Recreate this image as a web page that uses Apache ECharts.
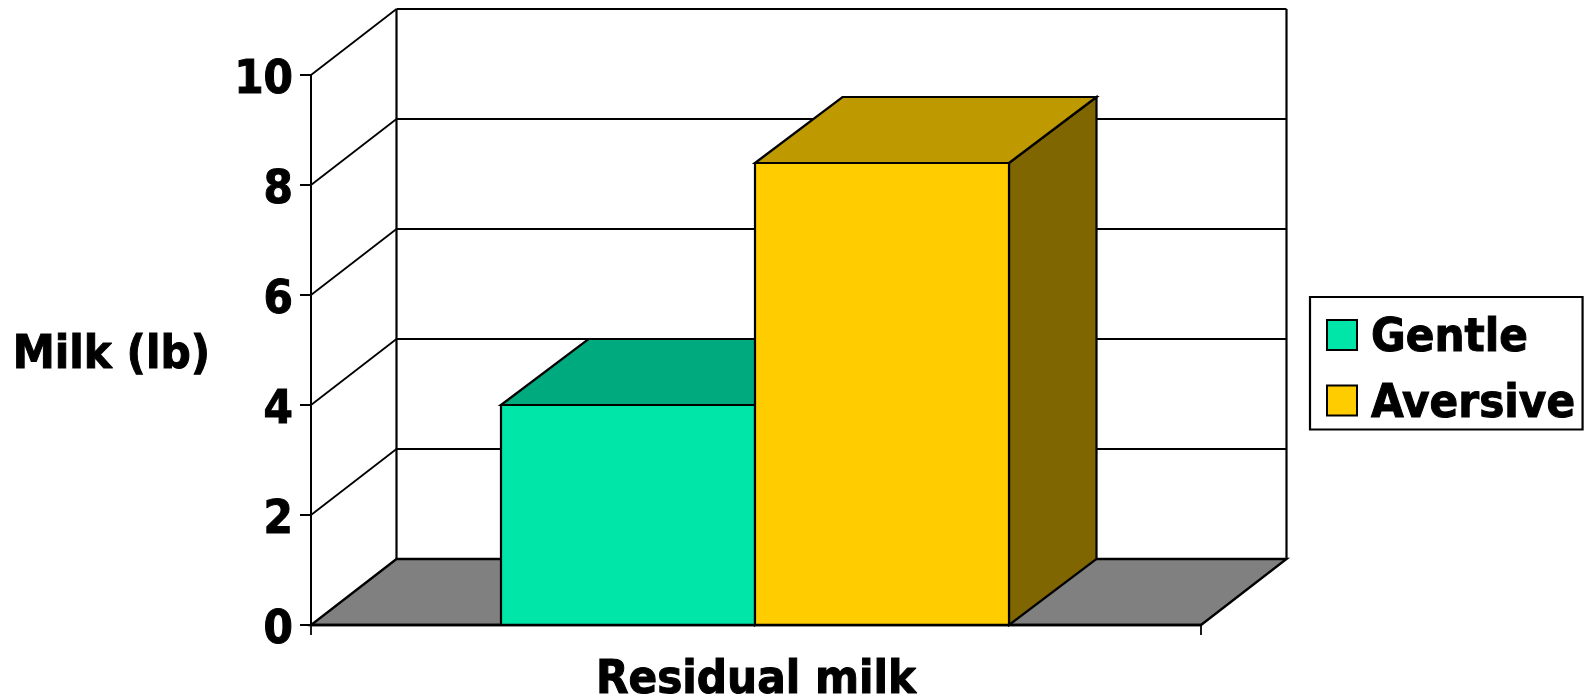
<!DOCTYPE html>
<html>
<head>
<meta charset="utf-8">
<style>html,body{margin:0;padding:0;background:#fff}#chart{width:1584px;height:696px}</style>
<script src="https://cdn.jsdelivr.net/npm/echarts@6/dist/echarts.min.js"></script>
</head>
<body>
<div id="chart"></div>
<script>
// Residual milk yield under two handling treatments
const categories = ['Residual milk'];
const gentleValues = [4];
const aversiveValues = [8.4];
const yTicks = [0, 2, 4, 6, 8, 10];

const FONT = '"DejaVu Sans Condensed", "DejaVu Sans", sans-serif';
const INK = '#000';

// Oblique offset of the chart's depth axis, in pixels
const WALL_DX = 85.5, BAR_DX = 87.5, DY = -66;
// Bar width as a share of the category band, and the pair's nudge off centre
const BAR_SHARE = 0.2854, BAR_SHIFT = -1;

// Shared weight for every label in the chart
const labelFont = {
  color: INK, fontFamily: FONT, fontWeight: 'bold', fontSize: 47,
  textBorderColor: INK, textBorderWidth: 1
};

function poly(points, fill, lineWidth) {
  return { type: 'polygon', shape: { points },
    style: { fill, stroke: INK, lineWidth, lineJoin: 'miter' } };
}
function seg(x1, y1, x2, y2, lineWidth) {
  return { type: 'line', shape: { x1, y1, x2, y2 },
    style: { stroke: INK, lineWidth, fill: null } };
}

// Floor and outer edges of the back and side walls
function renderFrame(params, api) {
  const r = params.coordSys;
  const x0 = r.x, x1 = r.x + r.width, yB = r.y + r.height, yT = r.y;
  const bx0 = x0 + WALL_DX, bx1 = x1 + WALL_DX;
  return { type: 'group', children: [
    poly([[x0, yB], [x1, yB], [bx1, yB + DY], [bx0, yB + DY]], '#808080', 2.4),
    seg(bx0, yB + DY, bx0, yT + DY, 2.2),
    seg(bx1, yB + DY, bx1, yT + DY, 2.2)
  ] };
}

// One gridline per tick: along the side wall, then across the back wall
function renderGrid(params, api) {
  const r = params.coordSys;
  const p = api.coord([0, api.value(0)]);
  const y = p[1], x0 = r.x, x1 = r.x + r.width;
  return { type: 'group', children: [
    seg(x0, y, x0 + WALL_DX, y + DY, 1.8),
    seg(x0 + WALL_DX, y + DY, x1 + WALL_DX, y + DY, 2.2)
  ] };
}

// Box bar: front face from the value scale, top and side faces offset in depth
function boxRenderer(slot, front, top, side) {
  return function (params, api) {
    const band = api.size([1, 0])[0];
    const w = band * BAR_SHARE;
    const c = api.coord([api.value(0), api.value(1)]);
    const base = api.coord([api.value(0), 0]);
    const l = c[0] + BAR_SHIFT + (slot - 1) * w, rr = l + w, t = c[1], b = base[1];
    return { type: 'group', children: [
      poly([[rr, t], [rr + BAR_DX, t + DY], [rr + BAR_DX, b + DY], [rr, b]], side, 2.2),
      poly([[l, t], [l + BAR_DX, t + DY], [rr + BAR_DX, t + DY], [rr, t]], top, 2.2),
      poly([[l, t], [rr, t], [rr, b], [l, b]], front, 2.2)
    ] };
  };
}

const chart = echarts.init(document.getElementById('chart'), null, { renderer: 'canvas' });
chart.setOption({
  animation: false,
  backgroundColor: '#fff',
  textStyle: { fontFamily: FONT },
  grid: { left: 311, right: 383, top: 75, bottom: 71, containLabel: false, outerBoundsMode: 'none' },
  xAxis: {
    type: 'category',
    data: categories,
    z: 10,
    axisLine: { lineStyle: { color: INK, width: 2.4 } },
    axisTick: { show: true, alignWithLabel: false, length: 10, lineStyle: { color: INK, width: 1.8 } },
    axisLabel: { ...labelFont, margin: 32 }
  },
  yAxis: {
    type: 'value',
    min: yTicks[0],
    max: yTicks[yTicks.length - 1],
    interval: 2,
    z: 10,
    name: 'Milk (lb)',
    nameLocation: 'middle',
    nameRotate: 0,
    nameGap: 101,
    nameTextStyle: { ...labelFont, verticalAlign: 'top', lineHeight: 12 },
    splitLine: { show: false },
    axisLine: { show: true, lineStyle: { color: INK, width: 2 } },
    axisTick: { show: true, length: 11, lineStyle: { color: INK, width: 2 } },
    axisLabel: { ...labelFont, margin: 18, verticalAlign: 'top', lineHeight: 12 }
  },
  legend: {
    data: ['Gentle', 'Aversive'],
    orient: 'vertical',
    left: 1310,
    top: 297,
    padding: [18, 7, 1, 16],
    itemWidth: 30,
    itemHeight: 30,
    itemGap: 17.5,
    borderColor: INK,
    borderWidth: 2.2,
    backgroundColor: '#fff',
    icon: 'rect',
    itemStyle: { borderColor: INK, borderWidth: 2 },
    formatter: name => `{t|${name}}`,
    textStyle: { ...labelFont, rich: { t: { ...labelFont, padding: [8, 0, 0, 9] } } },
    selectedMode: false
  },
  series: [
    { type: 'custom', name: 'frame', z: 2, silent: true, data: [[0]], renderItem: renderFrame },
    { type: 'custom', name: 'grid', z: 3, silent: true, data: yTicks.slice(1).map(v => [v]), renderItem: renderGrid },
    { type: 'custom', name: 'Gentle', z: 4, silent: true,
      itemStyle: { color: '#00E6A8' },
      encode: { x: 0, y: 1 },
      data: gentleValues.map((v, i) => [i, v]),
      renderItem: boxRenderer(0, '#00E6A8', '#00AA7F', '#007F5F') },
    { type: 'custom', name: 'Aversive', z: 5, silent: true,
      itemStyle: { color: '#FFCC00' },
      encode: { x: 0, y: 1 },
      data: aversiveValues.map((v, i) => [i, v]),
      renderItem: boxRenderer(1, '#FFCC00', '#BF9900', '#806600') }
  ]
});
</script>
</body>
</html>
